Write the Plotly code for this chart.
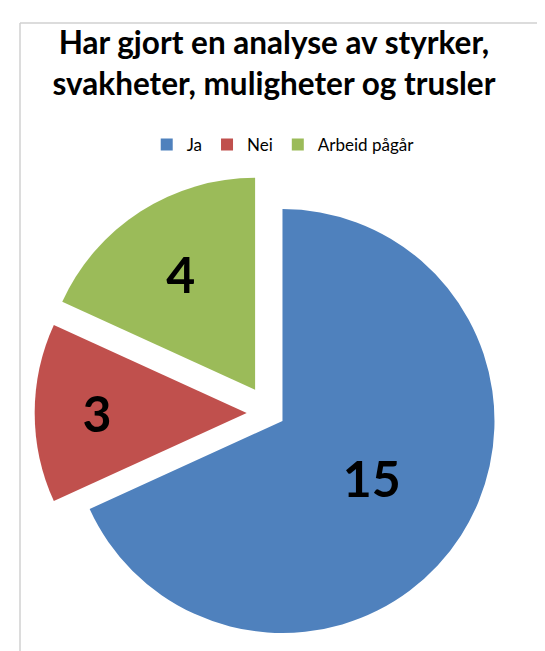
import plotly.graph_objects as go

labels = ["Ja", "Nei", "Arbeid pågår"]
values = [15, 3, 4]
colors = ["#4F81BD", "#C0504D", "#9BBB59"]
pulls = [0.07, 0.11, 0.13]
title_text = "Har gjort en analyse av styrker,<br>svakheter, muligheter og trusler"

W, H = 545, 651
cx, cy = 262, 405   # pixel centre of pie (before pull)
r = 212
half = r * (1 + max(pulls))

fig = go.Figure(go.Pie(
    labels=labels, values=values, sort=False, direction="clockwise", rotation=0,
    marker=dict(colors=colors, line=dict(width=0)),
    pull=pulls, textinfo="value", textposition="inside",
    insidetextorientation="horizontal",
    textfont=dict(family="Lato", size=50, color="black", weight="bold"),
    domain=dict(x=[(cx - half) / W, (cx + half) / W],
                y=[(H - cy - half) / H, (H - cy + half) / H]),
    hoverinfo="label+value",
))

fig.update_layout(
    width=W, height=H,
    margin=dict(l=0, r=0, t=0, b=0),
    paper_bgcolor="white", plot_bgcolor="white",
    title=dict(text=title_text, x=0.488, xanchor="center", y=1 - 46 / H, yanchor="middle",
               font=dict(family="Lato", size=31.5, color="black", weight="bold")),
    legend=dict(orientation="h", x=0.505, xanchor="center", y=1 - 137 / H, yanchor="middle",
                font=dict(family="Lato", size=17, color="black"), itemwidth=30,
                traceorder="normal"),
    shapes=[
        dict(type="line", xref="paper", yref="paper", x0=12 / W, x1=1, y0=1 - 15 / H, y1=1 - 15 / H,
             line=dict(color="#d0d0d0", width=1.5)),
        dict(type="line", xref="paper", yref="paper", x0=12 / W, x1=12 / W, y0=0, y1=1 - 15 / H,
             line=dict(color="#d0d0d0", width=1.5)),
    ],
)

fig.write_html("out.html")
